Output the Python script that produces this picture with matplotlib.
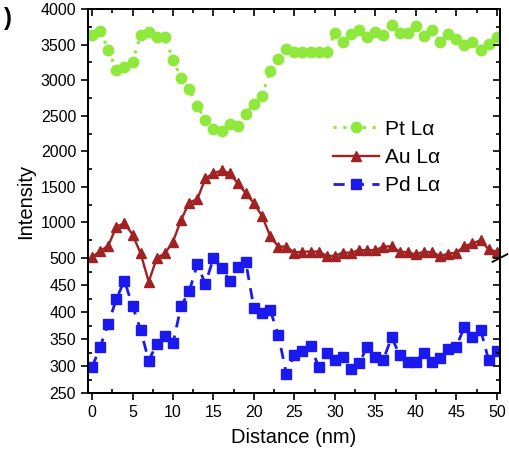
import numpy as np
import matplotlib
matplotlib.use("Agg")
import matplotlib.pyplot as plt
from matplotlib.ticker import FixedLocator

# line-scan data (x every 1 nm)
distance = list(range(0, 51))

pt_la = [3640, 3690, 3430, 3140, 3190, 3260, 3640, 3670, 3600, 3600,
         3290, 3030, 2870, 2640, 2440, 2320, 2290, 2380, 2350, 2530,
         2660, 2780, 3130, 3300, 3440, 3400, 3400, 3400, 3400, 3400,
         3660, 3530, 3650, 3710, 3600, 3680, 3640, 3780, 3660, 3660,
         3760, 3620, 3710, 3530, 3650, 3580, 3500, 3540, 3420, 3510,
         3610]

au_la = [510, 600, 670, 940, 990, 830, 565, 456, 500, 565,
         730, 1035, 1280, 1325, 1620, 1690, 1730, 1690, 1550, 1410,
         1270, 1090, 810, 660, 660, 575, 590, 590, 590, 530,
         530, 575, 575, 610, 610, 610, 660, 665, 590, 580,
         550, 590, 580, 530, 560, 575, 665, 705, 750, 620,
         590]

pd_la = [298, 335, 378, 424, 458, 411, 367, 310, 341, 356,
         342, 411, 438, 488, 452, 500, 481, 458, 484, 492,
         407, 399, 404, 358, 286, 321, 328, 337, 298, 325,
         312, 317, 294, 305, 336, 316, 312, 353, 321, 308,
         308, 325, 308, 314, 331, 336, 372, 353, 367, 311,
         327]

y_ticks = [250, 300, 350, 400, 450, 500, 1000, 1500, 2000, 2500, 3000, 3500, 4000]
x_ticks = [0, 5, 10, 15, 20, 25, 30, 35, 40, 45, 50]

# broken y axis: 250-500 on the lower part, 500-4000 compressed above
BREAK = 500.0
LOW_SPAN = 135.0
HIGH_SPAN = 249.0


def fwd(y):
    y = np.asarray(y, dtype=float)
    low = (y - 250.0) * LOW_SPAN / 250.0
    high = LOW_SPAN + (y - BREAK) * HIGH_SPAN / 3500.0
    return np.where(y <= BREAK, low, high)


def inv(v):
    v = np.asarray(v, dtype=float)
    low = 250.0 + v * 250.0 / LOW_SPAN
    high = BREAK + (v - LOW_SPAN) * 3500.0 / HIGH_SPAN
    return np.where(v <= LOW_SPAN, low, high)


plt.rcParams["font.family"] = ["Liberation Sans", "DejaVu Sans"]

fig = plt.figure(figsize=(5.10, 4.62), dpi=100)
ax = fig.add_axes([88 / 510, 69 / 462, 412 / 510, 384 / 462])
ax.set_yscale("function", functions=(fwd, inv))

ax.plot(distance, pt_la, linestyle=(0, (1, 2.2)), linewidth=2.2, color="#8fe83c",
        marker="o", markersize=7.5, label="Pt L\u03b1", zorder=3)
ax.plot(distance, au_la, linestyle="-", linewidth=1.7, color="#a02222",
        marker="^", markersize=7.5, label="Au L\u03b1", zorder=3)
ax.plot(distance, pd_la, linestyle=(0, (4, 3)), linewidth=2.0, color="#1a1aee",
        marker="s", markersize=7, label="Pd L\u03b1", zorder=3)

ax.set_xlim(-0.5, 50.4)
ax.set_ylim(250, 4000)

ax.yaxis.set_major_locator(FixedLocator(y_ticks))
y_minor = list(range(275, 500, 50)) + list(range(750, 4000, 500))
ax.yaxis.set_minor_locator(FixedLocator(y_minor))
ax.xaxis.set_major_locator(FixedLocator(x_ticks))
ax.xaxis.set_minor_locator(FixedLocator(np.arange(2.5, 50, 5)))
ax.set_yticklabels([str(t) for t in y_ticks])

ax.tick_params(axis="both", which="major", direction="out", length=5, width=1.2,
               labelsize=11.5, top=False, right=False)
ax.tick_params(axis="both", which="minor", direction="in", length=3, width=1.2)

# inward ticks on top / right like the original frame
ax2 = ax.twinx()
ax2.set_yscale("function", functions=(fwd, inv))
ax2.set_ylim(ax.get_ylim())
ax2.yaxis.set_major_locator(FixedLocator(y_ticks))
ax2.yaxis.set_minor_locator(FixedLocator(y_minor))
ax2.tick_params(axis="y", which="major", direction="in", length=5, width=1.2, labelright=False)
ax2.tick_params(axis="y", which="minor", direction="in", length=3, width=1.2)
ax3 = ax.twiny()
ax3.set_xlim(ax.get_xlim())
ax3.xaxis.set_major_locator(FixedLocator(x_ticks))
ax3.xaxis.set_minor_locator(FixedLocator(np.arange(2.5, 50, 5)))
ax3.tick_params(axis="x", which="major", direction="in", length=5, width=1.2, labeltop=False)
ax3.tick_params(axis="x", which="minor", direction="in", length=3, width=1.2)

for a in (ax, ax2, ax3):
    for s in a.spines.values():
        s.set_linewidth(1.3)

# break mark on the right spine
yb = float(fwd(BREAK)) / (LOW_SPAN + HIGH_SPAN)
ax.plot([1 - 0.018, 1 + 0.018], [yb - 0.01, yb + 0.01], transform=ax.transAxes,
        color="black", linewidth=1.3, clip_on=False, zorder=5)

ax.set_xlabel("Distance (nm)", fontsize=14.5, labelpad=6)
ax.set_ylabel("Intensity", fontsize=14.5, labelpad=4)

ax.legend(loc="upper left", bbox_to_anchor=(0.56, 0.75), frameon=False,
          fontsize=15, handlelength=2.2, handletextpad=0.3, labelspacing=0.45,
          borderpad=0.2)

fig.text(0.008, 0.945, ")", fontsize=17, fontweight="bold")

fig.savefig("out.png", dpi=100)
